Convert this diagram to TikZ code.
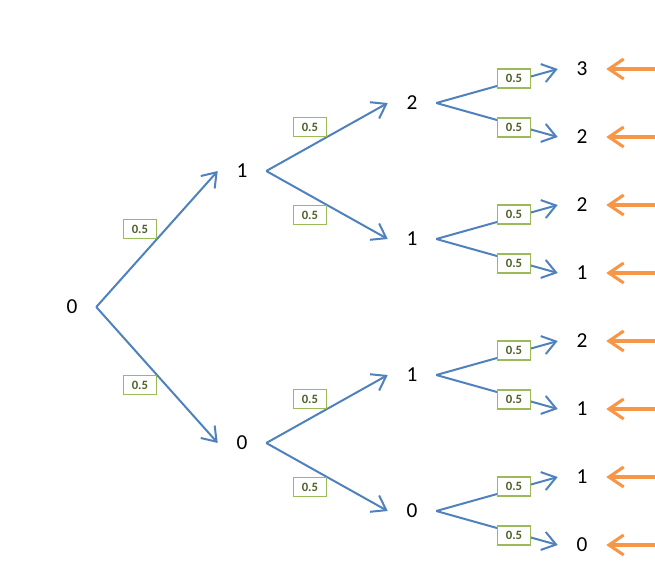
\documentclass[tikz,border=0pt]{standalone}
\usepackage{fontspec}
\setmainfont{Carlito}
\usetikzlibrary{arrows.meta}
\definecolor{branchblue}{HTML}{4F81BD}
\definecolor{markorange}{HTML}{F79646}
\definecolor{probgreen}{HTML}{9BBB59}
\definecolor{probtext}{HTML}{4F6228}

\begin{document}
\begin{tikzpicture}[x=0.75pt,y=-0.75pt]
        \useasboundingbox (0,0) rectangle (655,579);

        \begin{scope}[every node/.style={minimum width=36pt, inner sep=0pt, font=\fontsize{16}{18}\selectfont}]
          \node (1)  at (72,307)  {0};
          \node (2)  at (242,171) {1};
          \node (3)  at (242,443) {0};
          \node (4)  at (412,103) {2};
          \node (5)  at (412,239) {1};
          \node (6)  at (412,375) {1};
          \node (7)  at (412,511) {0};
          \node (8)  at (582,69)  {3};
          \node (9)  at (582,137) {2};
          \node (10) at (582,205) {2};
          \node (11) at (582,273) {1};
          \node (12) at (582,341) {2};
          \node (13) at (582,409) {1};
          \node (14) at (582,477) {1};
          \node (15) at (582,545) {0};
        \end{scope}

        \begin{scope}[every node/.style={draw=probgreen, fill=white, text=probtext, inner sep=0pt,
            line width=0.9pt, minimum width=24.75pt, minimum height=14.25pt, font=\bfseries\fontsize{9.5}{10}\selectfont}]

          \begin{scope}[every edge/.style={draw=branchblue, line width=1.5pt,
              -{Straight Barb[length=10pt, width=14pt, line width=1.5pt]}}]
            \path (1.east) edge node[pos=.5, anchor=south east] {0.5} (2.west);
            \path (1.east) edge node[pos=.5, anchor=north east] {0.5} (3.west);
            \path (2.east) edge node[pos=.5, anchor=south east] {0.5} (4.west);
            \path (2.east) edge node[pos=.5, anchor=north east] {0.5} (5.west);
            \path (3.east) edge node[pos=.5, anchor=south east] {0.5} (6.west);
            \path (3.east) edge node[pos=.5, anchor=north east] {0.5} (7.west);
            \path (4.east) edge node[pos=.64, yshift=2pt] {0.5} (8.west);
            \path (4.east) edge node[pos=.64, yshift=-2pt] {0.5} (9.west);
            \path (5.east) edge node[pos=.64, yshift=2pt] {0.5} (10.west);
            \path (5.east) edge node[pos=.64, yshift=-2pt] {0.5} (11.west);
            \path (6.east) edge node[pos=.64, yshift=2pt] {0.5} (12.west);
            \path (6.east) edge node[pos=.64, yshift=-2pt] {0.5} (13.west);
            \path (7.east) edge node[pos=.64, yshift=2pt] {0.5} (14.west);
            \path (7.east) edge node[pos=.64, yshift=-2pt] {0.5} (15.west);
          \end{scope}
        \end{scope}

        % markers on the leaves
        \coordinate (m8)  at (655,69);
        \coordinate (m9)  at (655,137);
        \coordinate (m10) at (655,205);
        \coordinate (m11) at (655,273);
        \coordinate (m12) at (655,341);
        \coordinate (m13) at (655,409);
        \coordinate (m14) at (655,477);
        \coordinate (m15) at (655,545);
        \begin{scope}[every path/.style={draw=markorange, line width=2.3pt,
            -{Straight Barb[length=11pt, width=15pt, line width=2.3pt]}}]
          \draw (m8)  -- (8.east);
          \draw (m9)  -- (9.east);
          \draw (m10) -- (10.east);
          \draw (m11) -- (11.east);
          \draw (m12) -- (12.east);
          \draw (m13) -- (13.east);
          \draw (m14) -- (14.east);
          \draw (m15) -- (15.east);
        \end{scope}

      \end{tikzpicture}
\end{document}
